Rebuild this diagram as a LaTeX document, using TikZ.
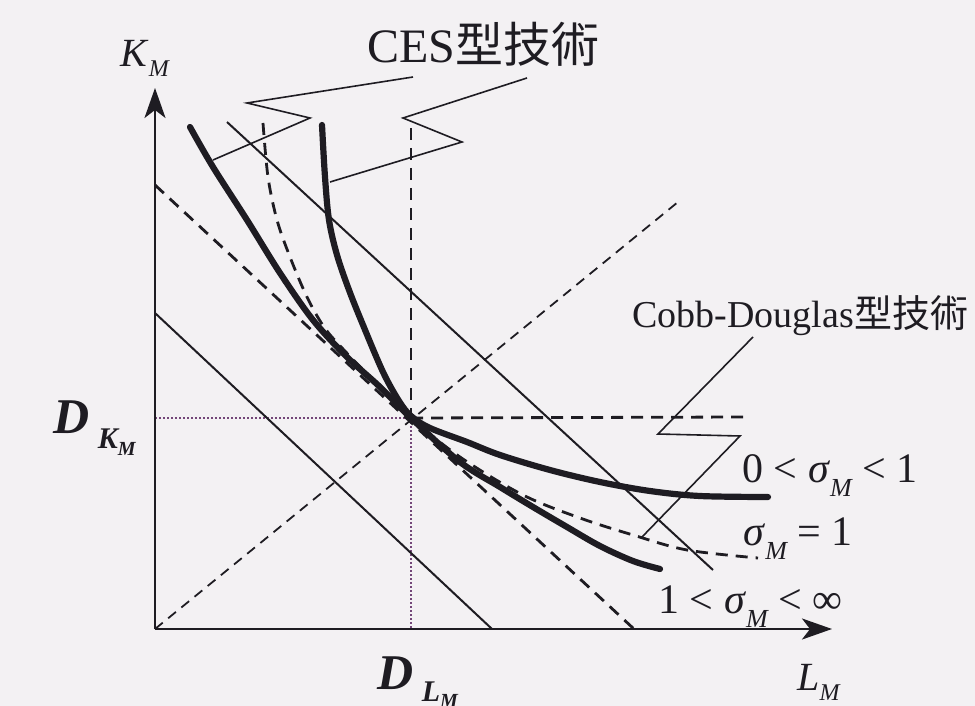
\documentclass[tikz,border=0pt]{standalone}
\usepackage{fontspec}
\setmainfont{Liberation Serif}
\newfontfamily\cjk{Noto Sans CJK JP}
\usetikzlibrary{arrows.meta}
\newcommand\myfs[1]{\fontsize{#1}{#1}\selectfont}
\newcommand\lowsub[3]{\raisebox{-#1}{\myfs{#2}\itshape #3}}
\definecolor{bg}{RGB}{243,241,243}
\definecolor{ink}{RGB}{30,28,34}
\definecolor{dotc}{RGB}{115,70,120}
\begin{document}
\begin{tikzpicture}[x=0.5pt,y=-0.5pt,
  thickc/.style={line width=3.1pt, line cap=round, line join=round, draw=ink},
  thinl/.style={line width=1pt, draw=ink},
  leader/.style={line width=0.8pt, draw=ink, line join=miter},
  dashl/.style={line width=1.4pt, dash pattern=on 6pt off 4pt, draw=ink},
  dashthin/.style={line width=0.9pt, dash pattern=on 5pt off 3.5pt, draw=ink},
  dotl/.style={line width=1pt, draw=dotc, dash pattern=on 0.8pt off 1.2pt},
  axis/.style={line width=1.3pt, draw=ink, -{Stealth[length=15pt,width=10.5pt,inset=4pt]}},
  lbl/.style={inner sep=0pt, anchor=base west, text=ink}]
\fill[bg] (0,0) rectangle (975,706);
\useasboundingbox (0,0) rectangle (975,706);

% key coordinates
\coordinate (O) at (155,629);
\coordinate (Ytop) at (155,88);
\coordinate (Xend) at (832,629);
\coordinate (D) at (411,418);
\coordinate (DK) at (155,418);
\coordinate (DL) at (411,629);
\coordinate (Vtop) at (411,128);
\coordinate (Hend) at (745,417);
\coordinate (Ray) at (678,202);
\coordinate (B1a) at (155,313);
\coordinate (B1b) at (492,629);
\coordinate (B2a) at (227,122);
\coordinate (B2b) at (713,570);
\coordinate (T1) at (155,185);
\coordinate (T2) at (634,629);

% guide lines
\draw[dotl] (DK) -- (D);
\draw[dotl] (D) -- (DL);
\draw[dashl] (Vtop) -- (D);
\draw[dashl] (D) -- (Hend);
\draw[dashthin] (O) -- (Ray);

% budget lines
\draw[thinl] (B1a) -- (B1b);
\draw[thinl] (B2a) -- (B2b);
\draw[dashl] (T1) -- (T2);

% Cobb-Douglas curve (dashed)
\draw[dashl] plot[smooth, tension=0.55] coordinates {(263,123) (268,177) (277,220) (290,257) (307,297) (324,327) (343,349) (377,384) (411,418) (460,457) (523,495) (580,518) (633,535) (687,550) (758,558)};

% sigma > 1 curve
\draw[thickc] plot[smooth, tension=0.55] coordinates {(190,127) (213,167) (247,220) (280,273) (313,320) (347,357) (380,387) (411,418) (460,462) (500,487) (533,507) (567,527) (600,546) (633,561) (660,569)};

% sigma < 1 curve
\draw[thickc] plot[smooth, tension=0.55] coordinates {(322,125) (325,177) (329,220) (337,255) (349,290) (363,325) (383,372) (399,401) (411,416) (430,428) (467,442) (500,455) (550,470) (600,482) (650,491) (700,496) (768,497)};

% axes
\draw[axis] (O) -- (Ytop);
\draw[axis] (O) -- (Xend);

% labels
\node[lbl, font=\myfs{24}] (ces) at (367,63) {CES{\cjk 型技術}};
\node[lbl, font=\myfs{19}] (cd) at (632,327) {Cobb-Douglas{\cjk 型技術}};
\node[lbl, font=\myfs{21}] (s1) at (742,482) {0 < \textit{σ}\lowsub{0.35em}{13}{M} < 1};
\node[lbl, font=\myfs{21}] (s2) at (743,545) {\textit{σ}\lowsub{0.35em}{13}{M} = 1};
\node[lbl, font=\myfs{21}] (s3) at (658,613) {1 < \textit{σ}\lowsub{0.35em}{13}{M} < ∞};
\node[lbl, font=\myfs{20}] (km) at (120,67) {\textit{K}\lowsub{0.25em}{12}{M}};
\node[lbl, font=\myfs{20}] (lm) at (797,690) {\textit{L}\lowsub{0.25em}{12}{M}};
\node[lbl, font=\myfs{25}] (dk) at (53,433) {\textbf{\textit{D}}\,\raisebox{-0.3em}{\myfs{15}\bfseries\itshape K\raisebox{-0.25em}{\myfs{10}M}}};
\node[lbl, font=\myfs{25}] (dl) at (377,689) {\textbf{\textit{D}}\,\raisebox{-0.25em}{\myfs{15}\bfseries\itshape L\raisebox{-0.2em}{\myfs{10}M}}};

% leaders
\coordinate (L1s) at (413,77);
\coordinate (L1a) at (247,103);
\coordinate (L1b) at (310,118);
\coordinate (L1e) at (213,160);
\coordinate (L2s) at (527,78);
\coordinate (L2a) at (403,118);
\coordinate (L2b) at (462,142);
\coordinate (L2e) at (330,182);
\coordinate (L3s) at (753,337);
\coordinate (L3a) at (658,434);
\coordinate (L3b) at (740,436);
\coordinate (L3e) at (642,537);
\draw[leader] (L1s) -- (L1a) -- (L1b) -- (L1e);
\draw[leader] (L2s) -- (L2a) -- (L2b) -- (L2e);
\draw[leader] (L3s) -- (L3a) -- (L3b) -- (L3e);
\end{tikzpicture}
\end{document}
